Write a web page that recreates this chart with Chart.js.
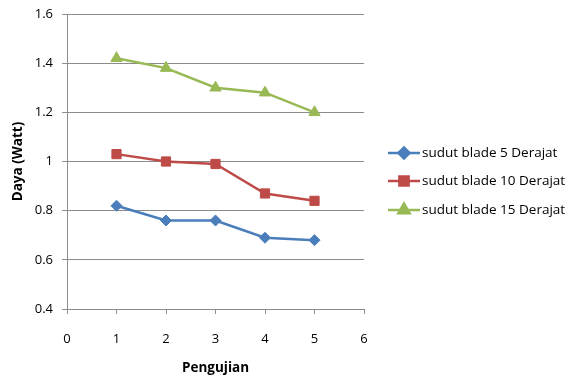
<!DOCTYPE html>
<html>
<head>
<meta charset="utf-8">
<script src="https://cdn.jsdelivr.net/npm/chart.js@4/dist/chart.umd.min.js"></script>
<style>
  html, body { margin: 0; padding: 0; background: #ffffff; }
  #wrap { width: 567px; height: 376px; position: relative; }
</style>
</head>
<body>
<div id="wrap"><canvas id="c" width="567" height="376"></canvas></div>
<script>
// Test number (Pengujian) on the x axis
const pengujian = [1, 2, 3, 4, 5];

// Power output (Watt) for each blade angle
const blade5 = [0.82, 0.76, 0.76, 0.69, 0.68];
const blade10 = [1.03, 1.00, 0.99, 0.87, 0.84];
const blade15 = [1.42, 1.38, 1.30, 1.28, 1.20];

const seriesLabels = ['sudut blade 5 Derajat', 'sudut blade 10 Derajat', 'sudut blade 15 Derajat'];

const xTicks = [0, 1, 2, 3, 4, 5, 6];
const yTicks = [0.4, 0.6, 0.8, 1, 1.2, 1.4, 1.6];

const FONT = '"Open Sans", "Liberation Sans", sans-serif';
const GRID = '#8c8c8c';

const toPoints = vals => pengujian.map((x, i) => ({ x: x, y: vals[i] }));

const styles = [
  { color: '#4a7ebb', shape: 'rectRot', radius: 5.5 },
  { color: '#be4b48', shape: 'rect', radius: 6.5 },
  { color: '#98b954', shape: 'triangle', radius: 6.5 }
];

const datasets = [blade5, blade10, blade15].map((vals, i) => ({
  label: seriesLabels[i],
  data: toPoints(vals),
  borderColor: styles[i].color,
  backgroundColor: styles[i].color,
  pointBackgroundColor: styles[i].color,
  pointBorderColor: styles[i].color,
  pointStyle: styles[i].shape,
  pointRadius: styles[i].radius,
  pointBorderWidth: 1,
  borderWidth: 2.5,
  tension: 0
}));

// Legend drawn beside the plot, Excel style: line segment with centered marker
const sideLegend = {
  id: 'sideLegend',
  afterDraw(chart) {
    const ctx = chart.ctx;
    const rows = [153, 181, 210];
    ctx.save();
    chart.data.datasets.forEach((ds, i) => {
      const y = rows[i];
      ctx.strokeStyle = ds.borderColor;
      ctx.lineWidth = 2.5;
      ctx.beginPath();
      ctx.moveTo(388, y);
      ctx.lineTo(420, y);
      ctx.stroke();
      Chart.helpers.drawPoint(ctx, {
        pointStyle: ds.pointStyle,
        radius: ds.pointRadius,
        borderWidth: 1,
        rotation: 0
      }, 404, y);
      ctx.fillStyle = ds.backgroundColor;
      ctx.fill();
      ctx.fillStyle = '#000000';
      ctx.font = '13.5px ' + FONT;
      ctx.textBaseline = 'middle';
      ctx.textAlign = 'left';
      ctx.fillText(ds.label, 422, y);
    });
    ctx.restore();
  }
};

new Chart(document.getElementById('c'), {
  type: 'line',
  data: { datasets: datasets },
  plugins: [sideLegend],
  options: {
    responsive: false,
    animation: false,
    layout: { padding: { left: 10, right: 203, top: 14, bottom: 0 } },
    plugins: {
      legend: { display: false },
      tooltip: { enabled: false }
    },
    scales: {
      x: {
        type: 'linear',
        min: 0,
        max: 6,
        afterBuildTicks: axis => { axis.ticks = xTicks.map(v => ({ value: v })); },
        afterFit: axis => { axis.height = 67; },
        grid: {
          drawOnChartArea: false,
          drawTicks: true,
          tickLength: 5,
          color: GRID
        },
        border: { display: true, color: GRID, width: 1 },
        ticks: {
          color: '#000000',
          font: { family: FONT, size: 13 },
          padding: 17,
          maxRotation: 0
        },
        title: {
          display: true,
          text: 'Pengujian',
          color: '#000000',
          font: { family: FONT, size: 13.5, weight: 'bold' },
          padding: { top: 6, bottom: 0 }
        }
      },
      y: {
        type: 'linear',
        min: 0.4,
        max: 1.6,
        afterBuildTicks: axis => { axis.ticks = yTicks.map(v => ({ value: v })); },
        afterFit: axis => {
          axis.width = 57;
          axis.paddingTop = 0;
          axis.paddingBottom = 0;
        },
        grid: {
          drawOnChartArea: true,
          drawTicks: true,
          tickLength: 5,
          color: GRID,
          lineWidth: 1
        },
        border: { display: true, color: GRID, width: 1 },
        ticks: {
          color: '#000000',
          font: { family: FONT, size: 13 },
          padding: 9,
          callback: v => String(v)
        },
        title: {
          display: true,
          text: 'Daya (Watt)',
          color: '#000000',
          font: { family: FONT, size: 13.5, weight: 'bold' },
          padding: { top: 0, bottom: 0 }
        }
      }
    }
  }
});
</script>
</body>
</html>
